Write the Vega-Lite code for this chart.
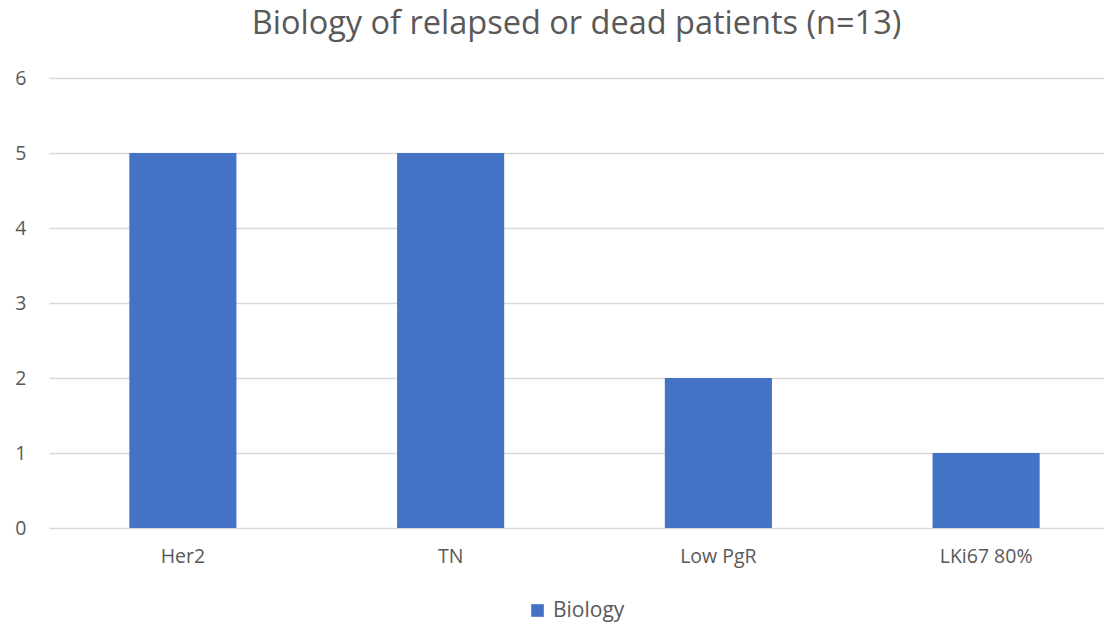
{
  "$schema": "https://vega.github.io/schema/vega-lite/v6.json",
  "autosize": {"type": "none"},
  "width": 1055,
  "height": 450,
  "padding": {"left": 49, "top": 78, "right": 0, "bottom": 96},
  "background": "white",
  "title": {
    "text": "Biology of relapsed or dead patients (n=13)",
    "fontSize": 32.5,
    "font": "Open Sans",
    "fontWeight": "normal",
    "color": "#595959",
    "anchor": "middle",
    "offset": 28
  },
  "data": {
    "values": [
      {"category": "Her2", "count": 5, "series": "Biology"},
      {"category": "TN", "count": 5, "series": "Biology"},
      {"category": "Low PgR", "count": 2, "series": "Biology"},
      {"category": "LKi67 80%", "count": 1, "series": "Biology"}
    ]
  },
  "mark": {"type": "bar", "stroke": null},
  "encoding": {
    "x": {
      "field": "category",
      "type": "nominal",
      "sort": null,
      "title": null,
      "scale": {"range": [0, 1071], "paddingInner": 0.6, "paddingOuter": 0.3},
      "axis": {
        "labelAngle": 0,
        "labelFontSize": 19.5,
        "labelFont": "Open Sans",
        "labelColor": "#595959",
        "labelPadding": 19,
        "ticks": false,
        "domain": false,
        "grid": false
      }
    },
    "y": {
      "field": "count",
      "type": "quantitative",
      "title": null,
      "scale": {"domain": [0, 6]},
      "axis": {
        "values": [0, 1, 2, 3, 4, 5, 6],
        "labelFontSize": 19.5,
        "labelFont": "Open Sans",
        "labelColor": "#595959",
        "labelPadding": 23,
        "ticks": false,
        "domain": false,
        "gridColor": "#d9d9d9",
        "gridWidth": 1.5
      }
    },
    "color": {
      "field": "series",
      "type": "nominal",
      "scale": {"range": ["#4472c4"]},
      "legend": {
        "title": null,
        "orient": "none",
        "legendX": 478,
        "legendY": 522,
        "direction": "horizontal",
        "symbolType": "square",
        "symbolSize": 160,
        "symbolStrokeWidth": 0,
        "labelFontSize": 21,
        "labelFont": "Open Sans",
        "labelColor": "#595959",
        "labelOffset": 5
      }
    }
  },
  "config": {"view": {"stroke": null}}
}
